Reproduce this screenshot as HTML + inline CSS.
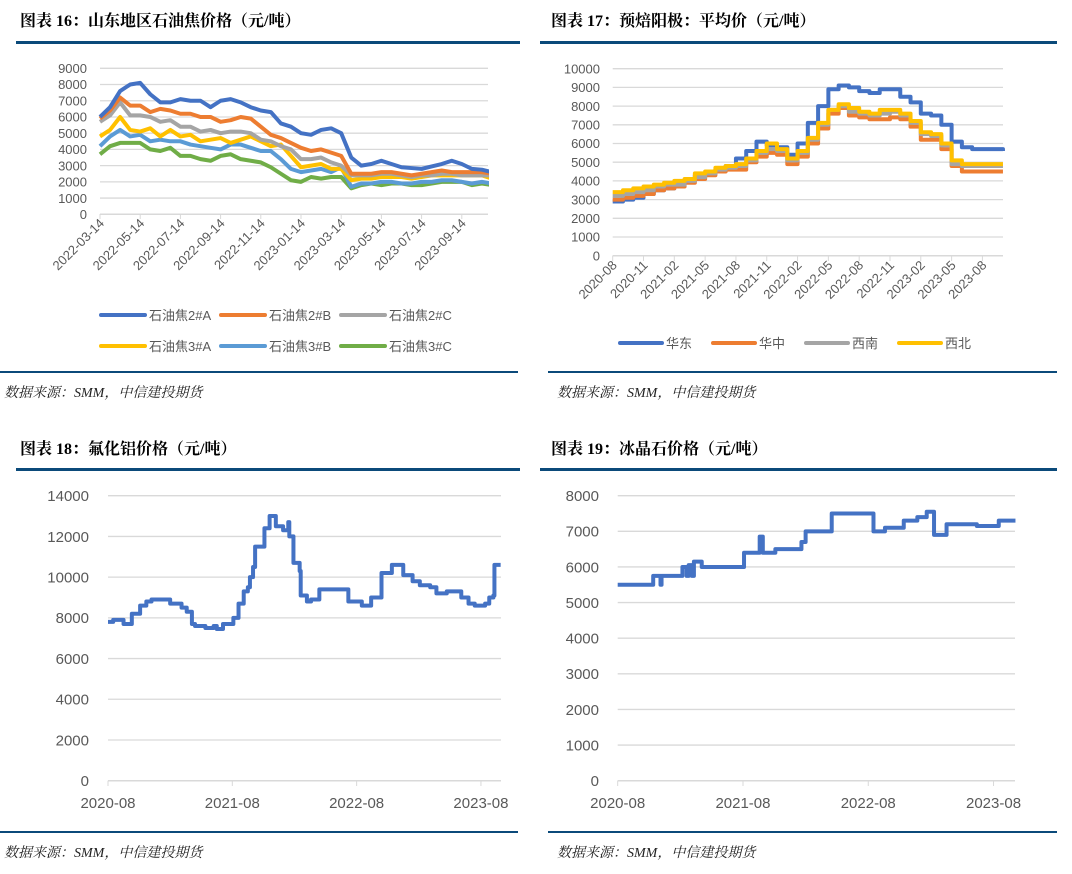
<!DOCTYPE html>
<html><head><meta charset="utf-8">
<style>
html,body{margin:0;padding:0;background:#fff;}
svg{display:block;font-family:"Liberation Sans","Noto Sans CJK SC",sans-serif;}
.ttl{font-family:"Liberation Serif","Noto Serif CJK SC",serif;font-weight:bold;font-size:16px;fill:#000;}
.src{font-family:"Liberation Serif","Noto Serif CJK SC",serif;font-style:italic;font-size:14px;fill:#222;}
.tk{fill:#595959;}
</style></head>
<body>
<svg id="page" width="1072" height="874" viewBox="0 0 1072 874">
<text class="ttl" x="20" y="26">图表 16：山东地区石油焦价格（元/吨）</text>
<rect x="16" y="41" width="504" height="3" fill="#0b4a7a"/>
<text class="ttl" x="551" y="26">图表 17：预焙阳极：平均价（元/吨）</text>
<rect x="540" y="41" width="517" height="3" fill="#0b4a7a"/>
<rect x="0" y="371" width="518" height="2" fill="#0b4a7a"/>
<rect x="548" y="371" width="509" height="2" fill="#0b4a7a"/>
<text class="src" x="4" y="397">数据来源：SMM，中信建投期货</text>
<text class="src" x="557" y="397">数据来源：SMM，中信建投期货</text>
<text class="ttl" x="20" y="454">图表 18：氟化铝价格（元/吨）</text>
<rect x="16" y="468" width="504" height="3" fill="#0b4a7a"/>
<text class="ttl" x="551" y="454">图表 19：冰晶石价格（元/吨）</text>
<rect x="540" y="468" width="517" height="3" fill="#0b4a7a"/>
<rect x="0" y="831" width="518" height="2" fill="#0b4a7a"/>
<rect x="548" y="831" width="509" height="2" fill="#0b4a7a"/>
<text class="src" x="4" y="857">数据来源：SMM，中信建投期货</text>
<text class="src" x="557" y="857">数据来源：SMM，中信建投期货</text>
<g id="c1"></g>
<g id="c2"></g>
<g id="c3"></g>
<g id="c4"></g>
</svg>
<script>
// ---- Chart 16 data (half-month steps from 2022-03-14)
const c1Ticks = ["2022-03-14","2022-05-14","2022-07-14","2022-09-14","2022-11-14","2023-01-14","2023-03-14","2023-05-14","2023-07-14","2023-09-14"];
const c1YTicks = [0,1000,2000,3000,4000,5000,6000,7000,8000,9000];
const c1Names = ["石油焦2#A","石油焦2#B","石油焦2#C","石油焦3#A","石油焦3#B","石油焦3#C"];
const c1Colors = ["#4472c4","#ed7d31","#a5a5a5","#ffc000","#5b9bd5","#70ad47"];
const s2A = [6000,6600,7600,8000,8100,7400,6900,6900,7100,7000,7000,6600,7000,7100,6900,6600,6400,6300,5600,5400,5000,4900,5200,5300,5000,3500,3000,3100,3300,3100,2900,2850,2800,2950,3100,3300,3100,2800,2750,2600];
const s2B = [5900,6400,7200,6700,6700,6300,6500,6400,6200,6200,6000,6000,5700,5800,6000,5900,5400,4900,4700,4400,4100,3900,4000,3800,3600,2500,2500,2500,2600,2600,2500,2400,2500,2600,2700,2600,2600,2600,2600,2500];
const s2C = [5700,6100,6900,6100,6100,6000,5700,5800,5400,5400,5100,5200,5000,5100,5100,5000,4600,4500,4200,4000,3400,3400,3500,3200,3000,2400,2400,2400,2500,2500,2400,2300,2400,2400,2500,2500,2400,2400,2400,2400];
const s3A = [4800,5200,6000,5200,5100,5300,4800,5200,4800,4900,4500,4600,4700,4400,4600,4800,4500,4200,4300,3600,2900,3000,3100,2800,2800,2100,2200,2200,2300,2300,2300,2200,2300,2400,2400,2400,2400,2400,2400,2200];
const s3B = [4200,4800,5200,4800,4900,4500,4600,4500,4500,4300,4200,4100,4000,4300,4300,4100,3900,3900,3400,2800,2600,2700,2800,2600,2900,1700,1900,1900,2000,2000,1900,1900,2000,2000,2100,2100,2000,1900,2000,1900];
const s3C = [3700,4200,4400,4400,4400,4000,3900,4100,3600,3600,3400,3300,3600,3700,3400,3300,3200,2900,2500,2100,2000,2300,2200,2300,2300,1600,1800,1900,1800,1900,1900,1800,1800,1900,2000,2000,2000,1800,1900,1800];
// ---- Chart 17 data (monthly from 2020-08)
const c2Ticks = ["2020-08","2020-11","2021-02","2021-05","2021-08","2021-11","2022-02","2022-05","2022-08","2022-11","2023-02","2023-05","2023-08"];
const c2YTicks = [0,1000,2000,3000,4000,5000,6000,7000,8000,9000,10000];
const c2Names = ["华东","华中","西南","西北"];
const c2Colors = ["#4472c4","#ed7d31","#a5a5a5","#ffc000"];
const huadong = [2900,3000,3100,3300,3500,3600,3800,4000,4300,4400,4600,4800,5200,5600,6100,5900,5800,5400,6000,7100,8000,8900,9100,9000,8800,8700,8900,8900,8500,8200,7600,7500,7000,6100,5800,5700,5700,5700,5600];
const huazhong = [3000,3100,3200,3300,3500,3600,3700,3900,4100,4300,4500,4600,4600,5000,5300,5500,5400,4900,5300,6000,6800,7600,7900,7500,7400,7300,7300,7400,7300,6900,6200,6200,5700,4800,4500,4500,4500,4500,4500];
const xinan = [3200,3300,3400,3500,3700,3800,3800,4000,4200,4400,4600,4700,4800,5100,5500,5700,5600,5100,5500,6200,7000,7800,8000,7700,7600,7500,7600,7700,7500,7100,6500,6400,5900,4900,4800,4800,4800,4800,4800];
const xibei = [3400,3500,3600,3700,3800,3900,4000,4100,4400,4500,4700,4800,4900,5200,5600,6000,5700,5200,5600,6300,7100,7800,8100,7900,7700,7600,7800,7800,7600,7200,6600,6500,6000,5100,4900,4900,4900,4900,4900];
// ---- Chart 18 data (months since 2020-08, value)
const c3Ticks = ["2020-08","2021-08","2022-08","2023-08"];
const c3YTicks = [0,2000,4000,6000,8000,10000,12000,14000];
const c3Months = [0,0.5,1.5,2.3,3.1,3.7,4.2,6.0,7.1,7.6,8.1,8.4,9.4,10.2,10.5,11.1,12.1,12.6,13.1,13.5,13.7,14.0,14.2,15.0,15.1,15.6,16.2,16.9,17.4,17.5,17.9,18.5,18.6,19.2,19.6,20.4,23.2,24.5,25.4,26.4,27.4,28.5,29.4,30.1,31.1,31.7,32.7,34.1,34.8,35.4,36.4,36.8,37.2,37.3,37.9];
const c3Values = [7800,7900,7700,8200,8600,8800,8900,8700,8500,8300,7700,7600,7500,7600,7450,7700,8000,8700,9300,9500,10000,10500,11500,11500,12400,13000,12500,12300,12700,12000,10700,10300,9100,8800,8900,9400,8800,8600,9000,10200,10600,10100,9800,9600,9500,9200,9300,9000,8700,8600,8700,9000,9100,10600,10600];
// ---- Chart 19 data
const c4Ticks = ["2020-08","2021-08","2022-08","2023-08"];
const c4YTicks = [0,1000,2000,3000,4000,5000,6000,7000,8000];
const c4Months = [0,3.4,4.1,4.2,6.2,6.6,6.8,7.1,7.3,8.05,12.1,13.6,13.9,15.1,17.6,18.0,20.5,24.5,25.6,27.4,28.7,29.6,30.3,31.5,34.4,36.5,38.1];
const c4Values = [5500,5750,5500,5750,6000,5750,6050,5750,6150,6000,6400,6850,6400,6500,6700,7000,7500,7000,7100,7300,7400,7550,6900,7200,7150,7300,7300];

const NS="http://www.w3.org/2000/svg";
function mk(parent,tag,attrs){const e=document.createElementNS(NS,tag);for(const k in attrs)e.setAttribute(k,attrs[k]);parent.appendChild(e);return e;}

function axes(g,o){
  const ys=v=>o.yb-(v/o.ymax)*(o.yb-o.y0);
  o.yTicks.forEach(v=>{
    const ln=mk(g,'line',{x1:o.x0,x2:o.x1,y1:ys(v),y2:ys(v),stroke:'#d9d9d9','stroke-width':v===0?1.5:1.3});
    
    
    const t=mk(g,'text',{x:o.labelX,y:ys(v)+o.fs*0.36,'text-anchor':'end','font-size':o.fs,class:'tk'});
    t.textContent=v;
    
    
  });
  return ys;
}
function pathFrom(xs,ys,step){
  let d='';
  for(let i=0;i<xs.length;i++){
    if(i===0)d+='M'+xs[0]+','+ys[0];
    else if(step)d+='H'+xs[i]+'V'+ys[i];
    else d+='L'+xs[i]+','+ys[i];
  }
  return d;
}

// Chart 1
(function(){
  const g=document.getElementById('c1');
  const o={x0:100,x1:488,y0:68.3,yb:214.3,ymax:9000,yTicks:c1YTicks,fs:13,labelX:87,prefix:'chart16'};
  const ys=axes(g,o);
  const xs=i=>100+i*10.05;
  c1Ticks.forEach((lab,i)=>{
    const x=100+i*40.2;
    const tl=mk(g,'line',{x1:x,x2:x,y1:214,y2:219,stroke:'#d9d9d9'});
    
    
    const t=mk(g,'text',{x:x+5,y:224,'text-anchor':'end','font-size':13,class:'tk',transform:'rotate(-45 '+(x+5)+' 224)'});
    t.textContent=lab;
    
    
  });
  const cp=mk(g,'clipPath',{id:'clip1'});mk(cp,'rect',{x:98,y:50,width:391,height:180});
  const series=[s2A,s2B,s2C,s3A,s3B,s3C];
  for(let k=series.length-1;k>=0;k--){
    const arr=series[k];
    const p=mk(g,'path',{d:pathFrom(arr.map((v,i)=>xs(i)),arr.map(v=>ys(v)),false),fill:'none',stroke:c1Colors[k],'stroke-width':4,'stroke-linejoin':'round','clip-path':'url(#clip1)'});
    
    
  }
  c1Names.forEach((n,k)=>{
    const x=101+(k%3)*120, y=(k<3)?315:346;
    const l=mk(g,'line',{x1:x,x2:x+44,y1:y,y2:y,stroke:c1Colors[k],'stroke-width':4,'stroke-linecap':'round'});
    
    
    const t=mk(g,'text',{x:x+48,y:y+5,'font-size':13,fill:'#595959'});
    t.textContent=n;
    
    
  });
})();

// Chart 2
(function(){
  const g=document.getElementById('c2');
  const o={x0:612.7,x1:1003,y0:68.7,yb:255.7,ymax:10000,yTicks:c2YTicks,fs:13,labelX:600,prefix:'chart17'};
  const ys=axes(g,o);
  const xm=m=>612.7+m*10.27;
  c2Ticks.forEach((lab,i)=>{
    const x=xm(i*3);
    const tl=mk(g,'line',{x1:x,x2:x,y1:255.7,y2:261,stroke:'#d9d9d9'});
    
    
    const t=mk(g,'text',{x:x+5,y:266,'text-anchor':'end','font-size':13,class:'tk',transform:'rotate(-45 '+(x+5)+' 266)'});
    t.textContent=lab;
    
    
  });
  const series=[huadong,huazhong,xinan,xibei];
  series.forEach((arr,k)=>{
    const p=mk(g,'path',{d:pathFrom(arr.map((v,i)=>xm(i)),arr.map(v=>ys(v)),true),fill:'none',stroke:c2Colors[k],'stroke-width':4,'stroke-linejoin':'round'});
    
    
  });
  c2Names.forEach((n,k)=>{
    const x=620+k*93, y=343;
    const l=mk(g,'line',{x1:x,x2:x+42,y1:y,y2:y,stroke:c2Colors[k],'stroke-width':4,'stroke-linecap':'round'});
    
    
    const t=mk(g,'text',{x:x+46,y:y+5,'font-size':13,fill:'#595959'});
    t.textContent=n;
    
    
  });
})();

function simpleChart(id,prefix,x0,x1,ymax,yTicks,labelX,pxPerMonth,ticks,months,values){
  const g=document.getElementById(id);
  const o={x0:x0,x1:x1,y0:495.7,yb:780.7,ymax:ymax,yTicks:yTicks,fs:15,labelX:labelX,prefix:prefix};
  const ys=axes(g,o);
  const xm=m=>x0+m*pxPerMonth;
  ticks.forEach((lab,i)=>{
    const x=xm(i*12);
    const tl=mk(g,'line',{x1:x,x2:x,y1:780.7,y2:786,stroke:'#d9d9d9'});
    
    
    const t=mk(g,'text',{x:x,y:808,'text-anchor':'middle','font-size':15,class:'tk'});
    t.textContent=lab;
    
    
  });
  const p=mk(g,'path',{d:pathFrom(months.map(xm),values.map(ys),true),fill:'none',stroke:'#4472c4','stroke-width':4,'stroke-linejoin':'round'});
  
  
}
simpleChart('c3','chart18',108,501,14000,c3YTicks,89,10.36,c3Ticks,c3Months,c3Values);
simpleChart('c4','chart19',617.7,1015,8000,c4YTicks,599,10.44,c4Ticks,c4Months,c4Values);
</script>
</body></html>
